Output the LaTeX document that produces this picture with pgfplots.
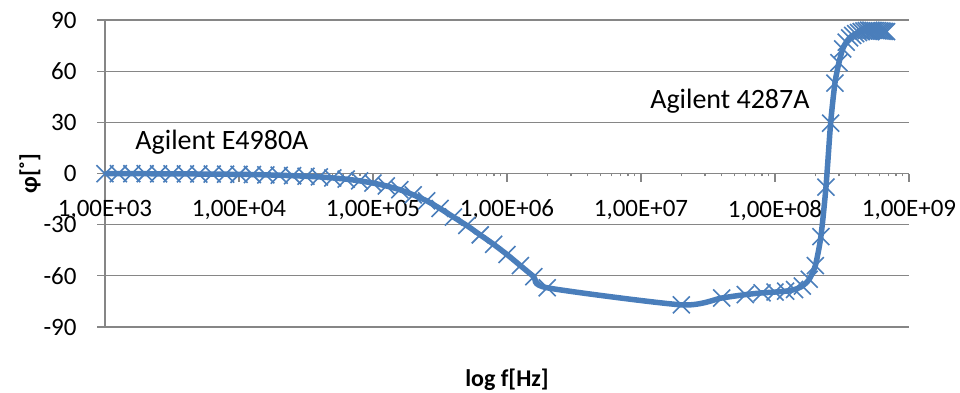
\documentclass[border=0pt]{standalone}
\usepackage{pgfplots}
\pgfplotsset{compat=1.18}
\usepackage{pgfplotstable}
\usepackage{fontspec}
\setmainfont{Carlito}

\definecolor{series}{RGB}{74,126,187}
\definecolor{gridgray}{RGB}{134,134,134}

% phase angle vs. frequency: E4980A (1 kHz - 2 MHz) and 4287A (20 MHz - 680 MHz)
\pgfplotstableread{
f phi
1000 -0.1
1258.9 -0.1
1584.9 -0.1
1995.3 -0.1
2511.9 -0.2
3162.3 -0.2
3981.1 -0.2
5011.9 -0.3
6309.6 -0.3
7943.3 -0.4
10000 -0.5
12589 -0.6
15849 -0.8
19953 -1.0
25119 -1.3
31623 -1.6
39811 -2.0
50119 -2.6
63096 -3.3
79433 -4.3
100000 -5.6
125890 -7.3
158490 -9.5
199530 -12.5
251190 -16
316230 -20.5
398110 -25.5
501190 -30.5
630960 -36
794330 -41.5
1000000 -47.5
1258900 -54
1584900 -60.5
1995300 -67
2e7 -77
4e7 -73
6e7 -71
8e7 -70
1e8 -69.5
1.2e8 -69
1.4e8 -68
1.6e8 -66
1.8e8 -62
2e8 -54
2.2e8 -37
2.4e8 -8
2.6e8 29.5
2.8e8 53
3e8 65
3.2e8 73
3.4e8 77
3.6e8 79.5
3.8e8 81
4e8 82
4.2e8 82.7
4.4e8 83.2
4.6e8 83.6
4.8e8 83.8
5e8 84
5.2e8 84
5.4e8 83.9
5.6e8 83.8
5.8e8 83.7
6e8 83.6
6.2e8 83.5
6.4e8 83.4
6.6e8 83.3
6.8e8 83.2
}\phasedata

\begin{document}
\begin{tikzpicture}
\useasboundingbox (-105pt,-65pt) rectangle (855pt,327pt);
\begin{axis}[
  at={(0,0)}, anchor=south west,
  scale only axis,
  width=804pt, height=307pt,
  xmode=log,
  xmin=1e3, xmax=1e9,
  ymin=-90, ymax=90,
  axis y line=left,
  axis x line=middle,
  axis line style={-, draw=gridgray, line width=1.2pt},
  hide obscured x ticks=false,
  hide obscured y ticks=false,
  tick align=outside,
  major tick length=8pt,
  tick style={draw=gridgray, line width=1.2pt},
  minor tick num=0,
  xtick={1e3,1e4,1e5,1e6,1e7,1e8,1e9},
  xticklabels={{1,00E+03},{1,00E+04},{1,00E+05},{1,00E+06},{1,00E+07},{1,00E+08},{1,00E+09}},
  ytick={-90,-60,-30,0,30,60,90},
  yticklabels={-90,-60,-30,0,30,60,90},
  ymajorgrids,
  grid style={draw=gridgray, line width=1.2pt},
  ticklabel style={font=\fontsize{25}{30}\selectfont, text=black},
  yticklabel style={anchor=east, xshift=-17pt},
  xticklabel style={anchor=north, yshift=-15pt},
  xlabel={log f[Hz]},
  ylabel={φ[˚]},
  label style={font=\bfseries\fontsize{24}{29}\selectfont},
  xlabel style={at={(axis description cs:0.5,-0.1726)}, anchor=center},
  ylabel style={at={(axis description cs:-0.0933,0.5)}, anchor=center},
  clip=false,
]
\addplot[series, line width=5.5pt, smooth, tension=0.4,
  mark=x, mark size=12pt, mark options={line width=1.6pt, solid}]
  table[x=f, y=phi] {\phasedata};
\node[font=\fontsize{28}{34}\selectfont] at (axis cs:7460,18.2) {Agilent E4980A};
\node[font=\fontsize{28}{34}\selectfont] at (axis cs:4.61e7,42.5) {Agilent 4287A};
\end{axis}
\end{tikzpicture}
\end{document}
